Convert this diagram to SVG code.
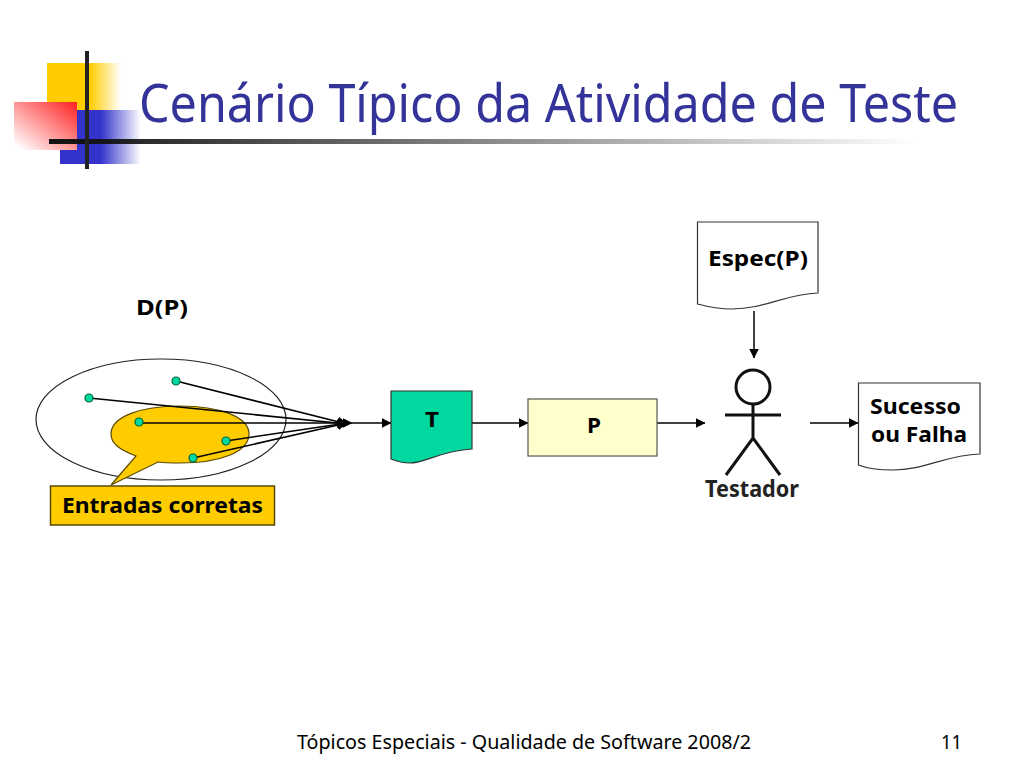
<svg xmlns="http://www.w3.org/2000/svg" width="1024" height="768" viewBox="0 0 1024 768">
<style>
text{font-family:"Noto Sans","Liberation Sans",sans-serif;fill:#000}
.b{font-weight:700;font-size:22px}
.n{font-size:20.500px}
.line{fill:none;stroke:#000;stroke-width:1.5}
.doc{stroke:#333;stroke-width:1.2}
.dot{fill:#00D8A0;stroke:#063;stroke-width:1.2}
</style>
<defs>
<marker id="a" markerWidth="11" markerHeight="10" refX="9.5" refY="5" orient="auto" markerUnits="userSpaceOnUse"><path d="M0 0L10 5L0 10z" fill="#000"/></marker>
<linearGradient id="gy" x1="0" x2="1" y1="0" y2="0"><stop offset=".58" stop-color="#FFCC00"/><stop offset="1" stop-color="#FFCC00" stop-opacity="0"/></linearGradient>
<linearGradient id="gb" x1="0" x2="1" y1="0" y2="0"><stop offset=".5" stop-color="#3333CC"/><stop offset="1" stop-color="#3333CC" stop-opacity="0"/></linearGradient>
<linearGradient id="gr" x1="1" x2="0" y1="0" y2="1"><stop offset="0" stop-color="#FF2020"/><stop offset=".95" stop-color="#FFFFFF"/></linearGradient>
<linearGradient id="gl" x1="0" x2="1" y1="0" y2="0"><stop offset="0" stop-color="#111"/><stop offset="1" stop-color="#111" stop-opacity="0"/></linearGradient>
</defs>
<g id="logo">
<rect x="47" y="63" width="74" height="47" fill="url(#gy)"/>
<rect x="60" y="110" width="81" height="54" fill="url(#gb)"/>
<rect x="14" y="102" width="63" height="48" fill="url(#gr)"/>
<rect x="49" y="139" width="870" height="5" fill="url(#gl)"/>
<rect x="85" y="51" width="4" height="118" fill="#222"/>
</g>
<text id="title" x="139" y="122" font-size="52" textLength="819" lengthAdjust="spacingAndGlyphs" style="fill:#333399">Cenário Típico da Atividade de Teste</text>
<text id="dp" class="b" x="136" y="315" textLength="52" lengthAdjust="spacingAndGlyphs">D(P)</text>
<g id="domain"><ellipse cx="161" cy="419.5" rx="125" ry="60.5" fill="none" stroke="#222" stroke-width="1.2"/></g>
<g id="correct-entries">
<path d="M111 485L136 456C118 449 111 443 111 434C111 417 140 406 180 406C220 406 249 417 249 434C249 452 220 463 180 463C172 463 165 463 158 462Z" fill="#FFCC00" stroke="#5A4A00" stroke-width="1.2"/>
<rect x="50.500" y="486" width="224" height="39" fill="#FFCC00" stroke="#5A4A00" stroke-width="1.5"/>
<text class="b" x="62" y="513" textLength="201" lengthAdjust="spacingAndGlyphs">Entradas corretas</text>
</g>
<g id="connectors">
<path class="line" d="M176 381L347 424" marker-end="url(#a)"/>
<path class="line" d="M89 398L347 424" marker-end="url(#a)"/>
<path class="line" d="M139 423L352 423" marker-end="url(#a)"/>
<path class="line" d="M226 441L347 423" marker-end="url(#a)"/>
<path class="line" d="M193 458L347 423" marker-end="url(#a)"/>
<path class="line" d="M352 423L391 423" marker-end="url(#a)"/>
<path class="line" d="M472 423L528 423" marker-end="url(#a)"/>
<path class="line" d="M657 423L705 423" marker-end="url(#a)"/>
<path class="line" d="M754 311L754 358" marker-end="url(#a)"/>
<path class="line" d="M810 423L858 423" marker-end="url(#a)"/>
</g>
<g id="dots">
<circle class="dot" cx="176" cy="381" r="4"/>
<circle class="dot" cx="89" cy="398" r="4"/>
<circle class="dot" cx="139" cy="422" r="4"/>
<circle class="dot" cx="226" cy="441" r="4"/>
<circle class="dot" cx="193" cy="458" r="4"/>
</g>
<g id="T">
<path d="M391 391H472V449C440 451 425 463 410 463C402 463 396 461 391 459Z" fill="#00D8A0" stroke="#333" stroke-width="1.2"/>
<text class="b" x="425" y="427" textLength="14" lengthAdjust="spacingAndGlyphs">T</text>
</g>
<g id="P">
<rect x="528" y="399" width="129" height="57" fill="#FFFFCC" stroke="#555" stroke-width="1.2"/>
<text class="b" x="587" y="433" textLength="14" lengthAdjust="spacingAndGlyphs">P</text>
</g>
<g id="espec">
<path class="doc" d="M697.500 222H818V293C785 294 765 309 732 309C717 309 705 306 697.500 304Z" fill="#fff"/>
<text class="b" x="708" y="266" textLength="100" lengthAdjust="spacingAndGlyphs">Espec(P)</text>
</g>
<g id="testador">
<circle cx="753" cy="387" r="17" fill="none" stroke="#111" stroke-width="3"/>
<path d="M725 415H781M753 404V438M726 475L753 438L780 475" fill="none" stroke="#111" stroke-width="3"/>
<text x="705" y="497" font-size="23" font-weight="700" textLength="94" lengthAdjust="spacingAndGlyphs" style="fill:#222">Testador</text>
</g>
<g id="result">
<path class="doc" d="M858.500 383H980V454C945 455 925 470 893 470C878 470 866 468 858.500 465Z" fill="#fff"/>
<text class="b" x="870" y="414" textLength="91" lengthAdjust="spacingAndGlyphs">Sucesso</text>
<text class="b" x="871" y="442" textLength="96" lengthAdjust="spacingAndGlyphs">ou Falha</text>
</g>
<text id="footer" class="n" x="297" y="749" textLength="454" lengthAdjust="spacingAndGlyphs">Tópicos Especiais - Qualidade de Software 2008/2</text>
<text id="page" class="n" x="941" y="749" textLength="21" lengthAdjust="spacingAndGlyphs">11</text>
</svg>
